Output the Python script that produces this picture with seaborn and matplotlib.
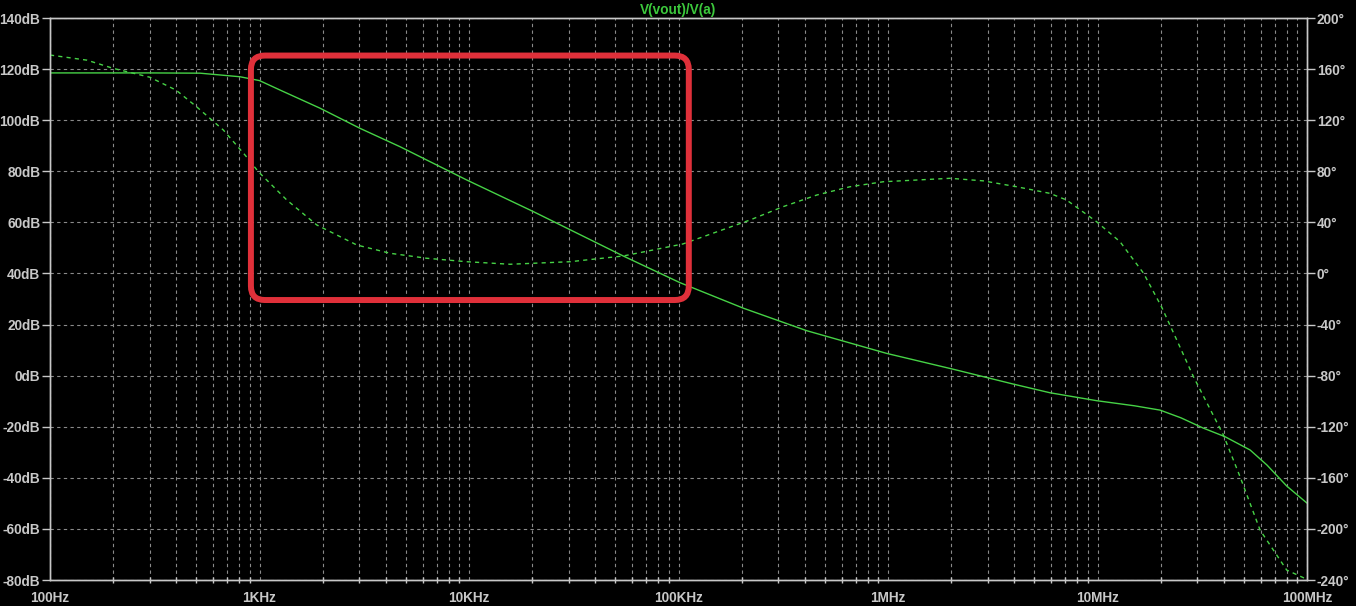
import numpy as np
import pandas as pd
import matplotlib
matplotlib.use("Agg")
import matplotlib.pyplot as plt
import seaborn as sns
from matplotlib.patches import FancyBboxPatch
from matplotlib.transforms import IdentityTransform
from matplotlib.ticker import FixedLocator, LogLocator, NullFormatter

# gain trace (solid)
gain_freq = [100, 300, 520, 807, 1000, 1253, 1944, 3020, 4690, 9750, 20.3e3, 54.6e3,
             101.6e3, 204e3, 409e3, 986e3, 2.05e6, 3.96e6, 5.93e6, 9.9e6, 15e6, 19.9e6,
             25e6, 31.9e6, 40.6e6, 53.5e6, 64.4e6, 80e6, 100e6]
gain_db = [118.5, 118.5, 118.4, 117.0, 115.5, 111.8, 104.7, 96.8, 89.6, 76.6, 64.2, 46.8,
           36.4, 26.4, 17.6, 8.7, 2.5, -3.3, -6.7, -9.8, -11.8, -13.5,
           -16.5, -20.5, -23.9, -29.1, -35.0, -43.2, -49.9]

# phase trace (dashed)
phase_freq = [100, 150, 200, 300, 400, 500, 672, 853, 987, 1350, 1875, 2911, 4200, 6280,
              9750, 15.7e3, 30.4e3, 54.6e3, 105e3, 219e3, 316e3, 457e3, 659e3, 950e3,
              1.98e6, 2.85e6, 4.11e6, 5.93e6, 7.12e6, 9.9e6, 12.8e6, 16.6e6, 20.2e6,
              23.9e6, 28.7e6, 39.9e6, 47.9e6, 59.7e6, 80e6, 100e6]
phase_deg = [171, 167, 160.6, 153.6, 143.5, 130.6, 112.3, 92.7, 79.7, 57.5, 38, 22.3, 15.8, 11.9,
             9.2, 7.2, 9.2, 13.7, 23.1, 41.8, 52.3, 61.4, 67.9, 71.8,
             74.5, 72.5, 67.9, 62.7, 57.5, 40.5, 24.9, 0.1, -26,
             -52.1, -80.8, -126.5, -159.1, -200.9, -232.2, -239.5]

x_ticks = [1e2, 1e3, 1e4, 1e5, 1e6, 1e7, 1e8]
x_labels = ["100Hz", "1KHz", "10KHz", "100KHz", "1MHz", "10MHz", "100MHz"]
db_ticks = list(range(-80, 141, 20))
deg_ticks = list(range(-240, 201, 40))

# highlight box (frequency / dB corners)
box_freq = [910, 112e3]
box_db = [29.6, 125.3]

gain = pd.DataFrame({"f": gain_freq, "db": gain_db})
phase = pd.DataFrame({"f": phase_freq, "deg": phase_deg})

sns.set_theme(style="dark")
plt.rcParams["font.family"] = ["Liberation Sans", "DejaVu Sans"]

txt = "#c8c8c8"
trace = "#46d246"
fs = 9.8

fig = plt.figure(figsize=(13.56, 6.06), dpi=100, facecolor="black")
ax = fig.add_axes([50 / 1356, 26 / 606, 1257 / 1356, 562 / 606])
ax.set_facecolor("black")
ax2 = ax.twinx()

sns.lineplot(data=gain, x="f", y="db", ax=ax, color=trace, lw=1.0, sort=False)
sns.lineplot(data=phase, x="f", y="deg", ax=ax2, color=trace, lw=1.0, sort=False,
             linestyle=(0, (3, 3)))

ax.set_xscale("log")
ax.set_xlim(1e2, 1e8)
ax.set_ylim(-80, 140)
ax2.set_ylim(-240, 200)

ax.xaxis.set_major_locator(FixedLocator(x_ticks))
ax.set_xticklabels(x_labels)
ax.xaxis.set_minor_locator(LogLocator(base=10, subs=np.arange(2, 10)))
ax.xaxis.set_minor_formatter(NullFormatter())
ax.set_yticks(db_ticks)
ax.set_yticklabels([f"{v}dB" for v in db_ticks])
ax2.set_yticks(deg_ticks)
ax2.set_yticklabels([f"{v}°" for v in deg_ticks])

ax.set_xlabel("")
ax.set_ylabel("")
ax2.set_ylabel("")

for a in (ax, ax2):
    for s in a.spines.values():
        s.set_color(txt)
        s.set_linewidth(1.0)
        s.set_visible(True)

ax.tick_params(axis="both", which="major", colors=txt, labelcolor=txt, length=6,
               width=1, direction="out", pad=1, labelsize=fs)
ax.tick_params(axis="x", which="major", pad=2)
ax.tick_params(axis="x", which="minor", colors=txt, length=5, width=1, direction="inout",
               bottom=True)
ax2.tick_params(axis="y", which="major", colors=txt, labelcolor=txt, length=6,
                width=1, direction="out", pad=1, labelsize=fs)
for lab in ax.get_xticklabels() + ax.get_yticklabels() + ax2.get_yticklabels():
    lab.set_fontweight("bold")

grid_kw = dict(color="#8a8a8a", linestyle=(0, (3, 3)), linewidth=0.8)
ax.grid(True, which="major", axis="both", **grid_kw)
ax.grid(True, which="minor", axis="x", **grid_kw)
ax2.grid(False)
ax.set_axisbelow(True)

ax.set_title("V(vout)/V(a)", color="#3cc83c", fontsize=fs, fontweight="bold", pad=3)

# red rounded annotation box, placed from data corners in pixel space
(px0, py0), (px1, py1) = ax.transData.transform([[box_freq[0], box_db[0]],
                                                  [box_freq[1], box_db[1]]])
box = FancyBboxPatch((px0, py0), px1 - px0, py1 - py0,
                     boxstyle="round,pad=0,rounding_size=14",
                     transform=IdentityTransform(), fill=False,
                     edgecolor="#e0303a", linewidth=4.3, zorder=10)
fig.add_artist(box)

fig.savefig("out.png", dpi=100, facecolor="black")
